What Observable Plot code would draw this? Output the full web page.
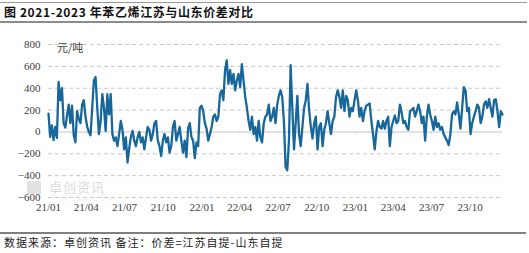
<!DOCTYPE html>
<html><head><meta charset="utf-8">
<script src="https://cdn.jsdelivr.net/npm/d3@7"></script>
<script src="https://cdn.jsdelivr.net/npm/@observablehq/plot@0.6"></script>
<style>
body{margin:0;background:#fff;width:529px;height:253px;position:relative;overflow:hidden;font-family:"Noto Sans CJK SC",sans-serif;}
.abs{position:absolute;}
#topline{left:0;top:2px;width:527px;height:1px;background:#9a9a9a;}
#title{left:4px;top:3px;font-size:12px;font-weight:bold;color:#111;line-height:18px;white-space:nowrap;letter-spacing:0.6px;}
#titleline{left:0;top:21px;width:527px;height:2px;background:#8c8c8c;}
#chart{left:0;top:25px;}
#unit{left:57px;top:40px;font-size:11px;color:#404040;line-height:14px;}
#wm{left:27px;top:180px;color:#dadada;font-size:13px;line-height:13px;white-space:nowrap;letter-spacing:1px;}
#wm .logo{display:inline-block;width:14px;height:13px;background:#e2e2e2;vertical-align:-2px;margin-right:8px;}
#wm2{left:60px;top:197px;color:#e8e8e8;font-size:5px;line-height:5px;letter-spacing:3px;font-family:"DejaVu Sans",sans-serif;}
#footline{left:0;top:232px;width:526px;height:1.5px;background:#7f7f7f;}
#foot{left:4px;top:235px;font-size:11px;color:#222;letter-spacing:1px;line-height:15px;white-space:nowrap;}
</style></head><body>
<div id="topline" class="abs"></div>
<div id="title" class="abs">图 2021-2023 年苯乙烯江苏与山东价差对比</div>
<div id="titleline" class="abs"></div>
<div id="chart" class="abs"></div>
<div id="wm" class="abs"><span class="logo"></span>卓创资讯</div>
<div id="wm2" class="abs">SCI99.COM</div>
<div id="unit" class="abs">元/吨</div>
<div id="footline" class="abs"></div>
<div id="foot" class="abs">数据来源：卓创资讯 备注：价差=江苏自提-山东自提</div>
<script>
// Series: Jiangsu minus Shandong styrene price spread (元/吨), sampled every 4 days from 2021-01-01
const startDate = "2021-01-01";
const stepDays = 4;
const spread2021_22 = [168,-45,60,-75,45,-55,457,290,400,80,40,150,250,80,240,-30,-95,190,120,80,250,290,140,50,0,-30,220,470,503,220,-20,100,345,220,10,345,160,345,-20,-80,-50,-130,-20,100,20,-160,-50,-280,-150,-45,10,-80,-130,-50,0,-95,-50,-160,-50,45,20,-80,-20,80,100,-80,-130,-220,-80,-20,-95,-50,-190,-130,45,100,-80,-20,45,-80,-190,-80,-230,30,80,-45,-80,-240,-95,-130,220,240,190,80,30,-80,-20,45,140,160,100,140,345,380,290,565,655,440,565,440,530,380,470,530,410,620,470,320,220,100,20,140,-20,45,-80,100,-50,-95,80,140,160,250,100,140,220,80,250,330,380];
const spread2022_23 = [320,100,-320,-350,-80,610,220,-160,80,330,-20,-130,45,220,290,440,200,50,-60,80,140,-160,45,80,-130,20,80,190,80,-20,100,140,320,380,320,220,380,190,330,290,140,220,190,290,380,290,140,220,100,190,240,250,260,100,-20,-160,0,100,45,30,100,30,100,140,-130,45,100,150,80,100,250,180,80,100,45,20,190,200,220,140,190,250,190,80,140,-80,140,250,160,100,20,140,45,80,20,45,-20,-50,-80,-120,-20,160,190,160,270,160,30,220,410,380,190,220,-20,80,140,190,250,220,80,140,250,280,220,300,220,140,290,300,190,45,190,160];
const quarterStarts = ["2021-01-01","2021-04-01","2021-07-01","2021-10-01","2022-01-01","2022-04-01","2022-07-01","2022-10-01","2023-01-01","2023-04-01","2023-07-01","2023-10-01"];
const tickLabels = ["21/01","21/04","21/07","21/10","22/01","22/04","22/07","22/10","23/01","23/04","23/07","23/10"];
const yTicks = [-600,-400,-200,0,200,400,600,800];

const values = spread2021_22.concat(spread2022_23);
const t0 = new Date(startDate + "T00:00:00Z");
const data = values.map((v, i) => ({date: d3.utcDay.offset(t0, i * stepDays), value: v}));
const tickDates = quarterStarts.map(s => new Date(s + "T00:00:00Z"));
const lastDate = data[data.length - 1].date;

const chart = Plot.plot({
  width: 529, height: 195,
  marginLeft: 48, marginRight: 27, marginTop: 19, marginBottom: 23,
  style: {fontFamily: '"Liberation Serif", "Times New Roman", serif', fontSize: "11px", color: "#404040", background: "transparent"},
  x: {type: "utc", domain: [t0, lastDate], ticks: tickDates,
      tickFormat: d => tickLabels[tickDates.findIndex(t => +t === +d)], tickSize: 0, tickPadding: 6, label: null},
  y: {domain: [-600, 800], ticks: yTicks, tickSize: 0, tickPadding: 8, label: null},
  marks: [
    Plot.ruleY(yTicks.filter(v => v !== 0), {stroke: "#c8c8c8", strokeDasharray: "4,3", strokeWidth: 1}),
    Plot.ruleY([0], {stroke: "#d9d9d9", strokeWidth: 1.5}),
    Plot.ruleX(tickDates.slice(1), {y1: 0, y2: -28, stroke: "#d9d9d9", strokeWidth: 1}),
    Plot.line(data, {x: "date", y: "value", stroke: "#17679a", strokeWidth: 2.3, strokeLinejoin: "round"})
  ]
});
document.getElementById("chart").appendChild(chart);
</script>
</body></html>
